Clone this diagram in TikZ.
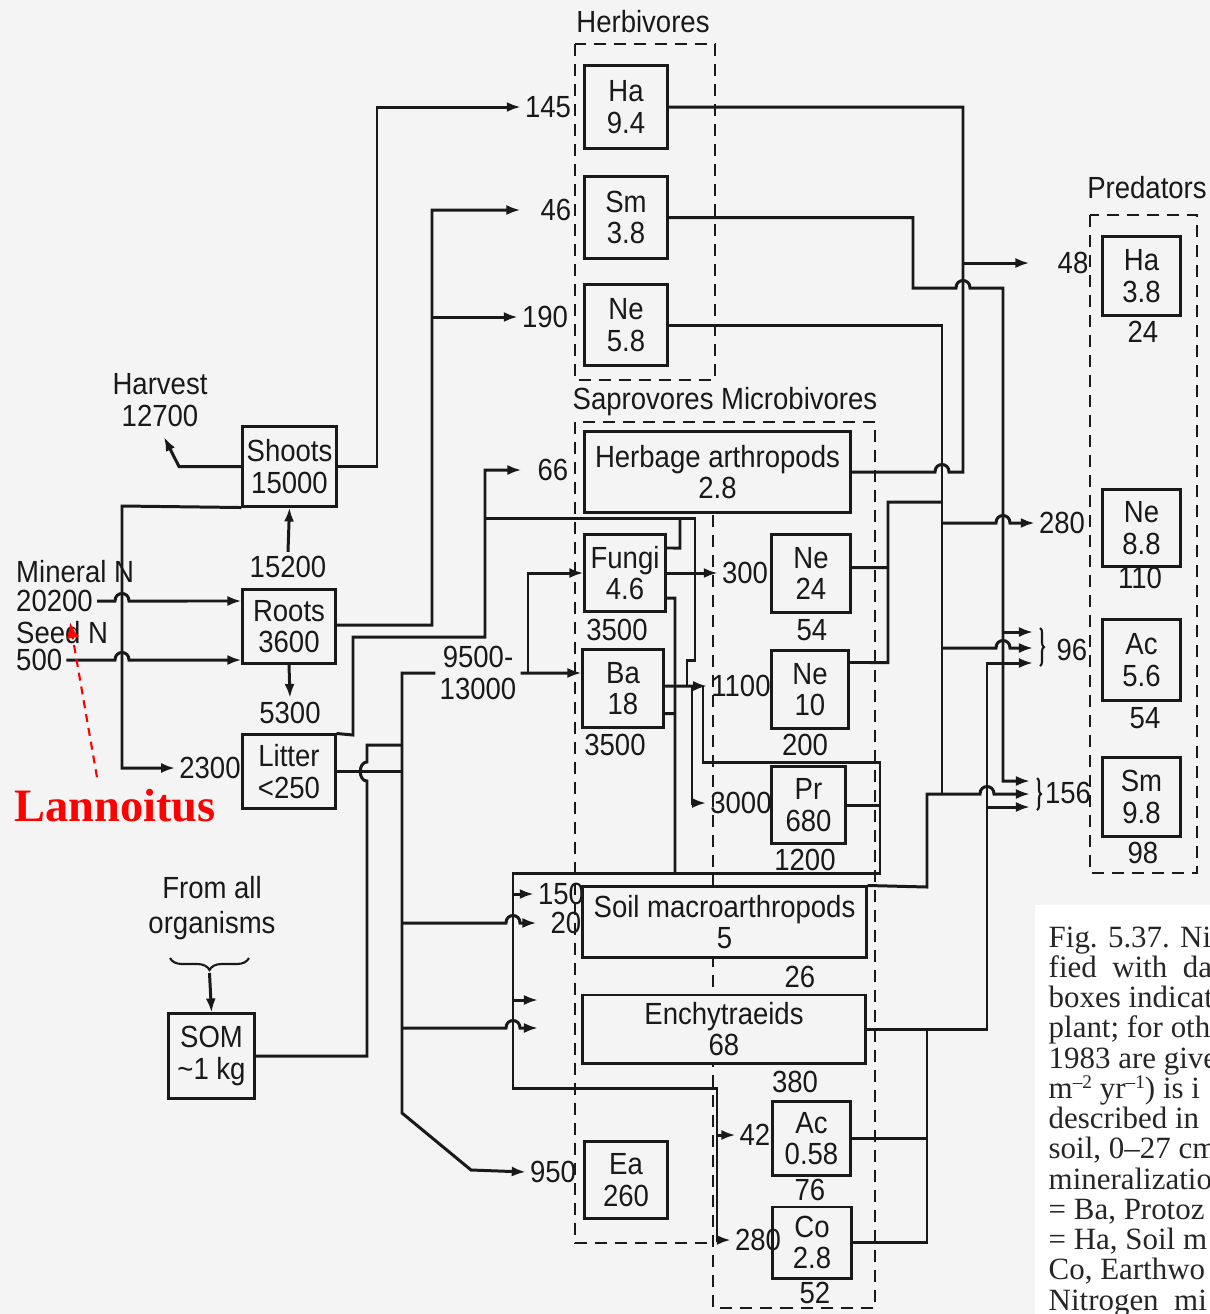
\documentclass[tikz,border=0pt]{standalone}
\usepackage{fontspec}
\usepackage{tikz}
\usetikzlibrary{arrows.meta,decorations.pathreplacing}
\newfontfamily\dinfont{Liberation Sans}[FakeStretch=0.9]
\newfontfamily\capfont{Liberation Serif}
\definecolor{ink}{gray}{0.1}
\definecolor{paper}{gray}{0.955}
\newcommand{\capsup}[1]{\raisebox{0.7ex}{\fontsize{5.5}{6}\selectfont #1}}

\begin{document}
\begin{tikzpicture}[
  x=0.01cm, y=-0.01cm,
  every node/.style={font=\dinfont\fontsize{8.7}{8.9}\selectfont, text=ink},
  box/.style={draw=ink, fill=paper, line width=0.85pt, inner sep=0pt, align=center},
  num/.style={inner sep=1pt},
  link/.style={draw=ink, line width=0.85pt},
  arrow/.style={link, -{Latex[length=1.4mm,width=1mm]}},
  grp/.style={draw=ink, line width=0.8pt, dash pattern=on 1.2mm off 0.8mm},
  curly/.style={draw=ink, line width=0.6pt, decorate, decoration={brace, amplitude=0.4mm}},
  capline/.style={font=\capfont\fontsize{8.8}{9}\selectfont, anchor=base west, inner sep=0pt, text=black!85}
]
\useasboundingbox (0,0) rectangle (1210,1314);
\fill[paper] (0,0) rectangle (1210,1314);
\fill[white] (1035,905) rectangle (1210,1314);

% group frames
\draw[grp] (575,44) rectangle (715,380);
\draw[grp] (713,515) -- (713,1308) -- (875,1308) -- (875,422) -- (575,422) -- (575,1243) -- (713,1243);
\draw[grp] (1090,215) rectangle (1197,873);
\node (herbivores) at (643,22) {Herbivores};
\node (saprovores) at (725,402) {Saprovores Microbivores};
\node (predators) at (1147,188) {Predators};

% plant and soil
\node[box, minimum width=0.93cm, minimum height=0.79cm] (shoots) at (289.5,466.5) {Shoots\\15000};
\node[box, minimum width=0.92cm, minimum height=0.73cm] (roots) at (289,626.5) {Roots\\3600};
\node[box, minimum width=0.92cm, minimum height=0.73cm] (litter) at (289,771.5) {Litter\\<250};
\node[box, minimum width=0.85cm, minimum height=0.84cm] (som) at (211.5,1056) {SOM\\\textasciitilde 1 kg};

% herbivores
\node[box, minimum width=0.82cm, minimum height=0.82cm] (hbHa) at (626,107) {Ha\\9.4};
\node[box, minimum width=0.82cm, minimum height=0.81cm] (hbSm) at (626,217.5) {Sm\\3.8};
\node[box, minimum width=0.82cm, minimum height=0.80cm] (hbNe) at (626,325) {Ne\\5.8};

% saprovores and microbivores
\node[box, minimum width=2.65cm, minimum height=0.80cm] (saHerb) at (717.5,472) {Herbage arthropods\\2.8};
\node[box, minimum width=0.80cm, minimum height=0.77cm] (saFungi) at (625,573) {Fungi\\4.6};
\node[box, minimum width=0.80cm, minimum height=0.77cm] (saBa) at (623,688.5) {Ba\\18};
\node[box, minimum width=0.78cm, minimum height=0.77cm] (mbNeF) at (811,573.5) {Ne\\24};
\node[box, minimum width=0.76cm, minimum height=0.77cm] (mbNeB) at (810,689.5) {Ne\\10};
\node[box, minimum width=0.73cm, minimum height=0.76cm] (mbPr) at (808.5,805) {Pr\\680};
\node[box, minimum width=2.83cm, minimum height=0.70cm] (saMacro) at (724.5,922) {Soil macroarthropods\\5};
\node[box, minimum width=2.82cm, minimum height=0.68cm] (saEnch) at (724,1029) {Enchytraeids\\68};
\node[box, minimum width=0.82cm, minimum height=0.76cm] (saEa) at (626,1180) {Ea\\260};
\node[box, minimum width=0.77cm, minimum height=0.73cm] (mbAc) at (811.5,1138.5) {Ac\\0.58};
\node[box, minimum width=0.78cm, minimum height=0.71cm] (mbCo) at (812,1242.5) {Co\\2.8};

% predators
\node[box, minimum width=0.77cm, minimum height=0.78cm] (prHa) at (1141.5,276) {Ha\\3.8};
\node[box, minimum width=0.77cm, minimum height=0.76cm] (prNe) at (1141.5,528) {Ne\\8.8};
\node[box, minimum width=0.77cm, minimum height=0.80cm] (prAc) at (1141.5,660) {Ac\\5.6};
\node[box, minimum width=0.77cm, minimum height=0.78cm] (prSm) at (1141.5,797) {Sm\\9.8};

% flow numbers
\node[align=center] (harvest) at (160,400) {Harvest\\12700};
\node[num, anchor=west] (lMineral) at (12,572) {Mineral N};
\node[num, anchor=west] (l20200) at (12,601) {20200};
\node[num, anchor=west] (lSeed) at (12,633) {Seed N};
\node[num, anchor=west] (l500) at (12,660) {500};
\node[num] (f15200) at (288,567) {15200};
\node[num] (f5300) at (290,713) {5300};
\node[num] (f2300) at (210,768) {2300};
\node[num] (f145) at (548,107) {145};
\node[num] (f46) at (556,210) {46};
\node[num] (f190) at (545,317) {190};
\node[num] (f66) at (553,470) {66};
\node[num, align=center] (f9500) at (478,673) {9500-\\13000};
\node[num] (f3500a) at (617,630) {3500};
\node[num] (f3500b) at (615,745) {3500};
\node[num] (f300) at (745,573) {300};
\node[num] (f1100) at (741,686) {1100};
\node[num] (f3000) at (741,803) {3000};
\node[num] (f54a) at (812,630) {54};
\node[num] (f200) at (805,745) {200};
\node[num] (f1200) at (805,860) {1200};
\node[num] (f150) at (561,894) {150};
\node[num] (f20) at (566,923) {20};
\node[num] (f26) at (800,977) {26};
\node[num] (f380) at (795,1082) {380};
\node[num] (f42) at (755,1135) {42};
\node[num] (f280b) at (758,1240) {280};
\node[num] (f76) at (810,1190) {76};
\node[num] (f52) at (815,1293) {52};
\node[num] (f950) at (553,1172) {950};
\node[num] (f48) at (1073,263) {48};
\node[num] (f280a) at (1062,523) {280};
\node[num] (f96) at (1072,650) {96};
\node[num] (f156) at (1068,793) {156};
\node[num] (f24) at (1143,332) {24};
\node[num] (f110) at (1140,578) {110};
\node[num] (f54b) at (1145,718) {54};
\node[num] (f98) at (1143,853) {98};
\node[align=center, font=\dinfont\fontsize{8.7}{10}\selectfont] (fromall) at (212,908) {From all\\organisms};

% free ends
\coordinate (harv) at (164,437);
\coordinate (rootsBus) at (432,317);
\coordinate (litBus) at (528,673);
\coordinate (herbBus) at (963,263);
\coordinate (enIn1) at (538,1000);
\coordinate (enIn2) at (538,1028);
\coordinate (a96a) at (1033,632);
\coordinate (a96b) at (1033,648);
\coordinate (a96c) at (1033,663);
\coordinate (a156a) at (1030,781);
\coordinate (a156b) at (1030,794);
\coordinate (a156c) at (1030,807);
\coordinate (somTip) at (209.5,973);

% plant flows
\draw[arrow] (shoots.west) -- (179,466.5) -- (harv);
\draw[arrow] (shoots.east) -- (377,466.5) |- (f145.west);
\draw[arrow] (l20200.east) -- (115,601) .. controls (115,591) and (129,591) .. (129,601) -- ([yshift=2.55mm]roots.west);
\draw[arrow] (l500.east) -- (115,660) .. controls (115,650) and (129,650) .. (129,660) -- ([yshift=-3.35mm]roots.west);
\draw[arrow] (shoots.south west) -- (122,506) -- (122,768) -- (f2300.west);
\draw[arrow] (f15200.north) -- (shoots.south);
\draw[arrow] (roots.south) -- (f5300.north);
\draw[arrow, shorten >=1.6mm] ([yshift=0.15mm]roots.east) -- (432,625) |- (f46.west);
\draw[arrow] (rootsBus) -- (f190.west);
\draw[arrow, shorten >=1.2mm] (litter.north east) -- (353,735) -- (353,637) -- (485,637) |- (f66.west);
\draw[link] (485,518) -- (695,518) -- (695,660) -- (687,660) -- (687,686);

% litter and SOM to decomposers
\draw[link] (litter.east) -- (402,771.5);
\draw[link] (som.east) -- (367,1056) -- (367,781) .. controls (358,781) and (358,762) .. (367,762) -- (367,745) -- (402,745);
\draw[arrow] (f9500.west) -- (402,673) -- (402,1113) -- (471,1170) -- (f950.west);
\draw[arrow] (f9500.east) -- ([yshift=1.55mm]saBa.west);
\draw[arrow] (litBus) |- (saFungi.west);
\draw[arrow, shorten >=1mm] (402,923) -- (506,923) .. controls (506,913) and (520,913) .. (520,923) -- (f20.west);
\draw[arrow] (402,1028) -- (506,1028) .. controls (506,1018) and (520,1018) .. (520,1028) -- (enIn2);

% microbes to grazers
\draw[arrow] (saFungi.east) -- (f300.west);
\draw[link] ([yshift=2.5mm]saFungi.east) -- (680,548) -- (680,518);
\draw[link] ([yshift=-2.5mm]saFungi.east) -- (675,598) -- (675,873);
\draw[arrow] ([yshift=0.25mm]saBa.east) -- (f1100.west);
\draw[link] ([yshift=-2.5mm]saBa.east) -- (675,713.5);
\draw[arrow] (692,686) |- (f3000.west);
\draw[arrow] (703,686) -- (703,762) -- (880,762) -- (880,873) -- (513,873) -- (513,1088) -- (717,1088) -- (717,1240) -- (f280b.west);
\draw[link] (mbPr.east) -- (880,805);
\draw[arrow] (513,894) -- (f150.west);
\draw[arrow] (513,1000) -- (enIn1);
\draw[arrow] (717,1135) -- (f42.west);

% to predators
\draw[link] (hbHa.east) -- (963,107) -- (963,472) -- (949,472) .. controls (949,462) and (935,462) .. (935,472) -- (saHerb.east);
\draw[arrow, shorten >=2.4mm] (herbBus) -- (f48.west);
\draw[arrow] (hbSm.east) -- (913,217.5) -- (913,288) -- (956,288) .. controls (956,278) and (970,278) .. (970,288) -- (1003,288) -- (1003,781) -- (a156a);
\draw[arrow] (1003,632) -- (a96a);
\draw[link] (hbNe.east) -- (942,325) -- (942,794);
\draw[arrow] (942,523) -- (996,523) .. controls (996,513) and (1010,513) .. (1010,523) -- (f280a.west);
\draw[arrow] (942,648) -- (996,648) .. controls (996,638) and (1010,638) .. (1010,648) -- (a96b);
\draw[link] ([yshift=0.6mm]mbNeF.east) -- (888,567.5);
\draw[link] ([yshift=2.7mm]mbNeB.east) -- (888,662.5) -- (888,502) -- (942,502);
\draw[arrow] (saMacro.north east) -- (927,887) -- (927,794) -- (980,794) .. controls (980,784) and (994,784) .. (994,794) -- (a156b);
\draw[arrow] (saEnch.east) -- (987,1029) -- (987,663) -- (a96c);
\draw[arrow] (987,807) -- (a156c);
\draw[link] (mbAc.east) -- (927,1138.5);
\draw[link] (mbCo.east) -- (927,1242.5) -- (927,1029);
\draw[curly] (1040,628) -- (1040,666);
\draw[curly] (1037,778) -- (1037,810);

% dead matter
\draw[curly, decoration={brace, amplitude=1.2mm}] (249,958) -- (170,958);
\draw[arrow] (somTip) -- (som.north);

% annotation
\node[font=\capfont\fontsize{13.2}{14}\selectfont\bfseries, text=red] (lannoitus) at (115,806) {Lannoitus};
\coordinate (fertTip) at (70,622);
\draw[red, line width=0.6pt, dash pattern=on 0.8mm off 0.6mm, -{Latex[length=1.6mm,width=1.2mm]}] ([xshift=-1.8mm]lannoitus.north) -- (fertTip);

% caption
\node[capline] (cap1) at (1048,947) {Fig. 5.37. Nit};
\node[capline] (cap2) at (1048,977.25) {fied \ with \ da};
\node[capline] (cap3) at (1048,1007.5) {boxes indicat};
\node[capline] (cap4) at (1048,1037.75) {plant; for oth};
\node[capline] (cap5) at (1048,1068) {1983 are give};
\node[capline] (cap6) at (1048,1098.25) {m\capsup{–2} yr\capsup{–1}) is i};
\node[capline] (cap7) at (1048,1128.5) {described in};
\node[capline] (cap8) at (1048,1158.75) {soil, 0–27 cm};
\node[capline] (cap9) at (1048,1189) {mineralizatio};
\node[capline] (cap10) at (1048,1219.25) {= Ba, Protoz};
\node[capline] (cap11) at (1048,1249.5) {= Ha, Soil m};
\node[capline] (cap12) at (1048,1279.75) {Co, Earthwo};
\node[capline] (cap13) at (1048,1310) {Nitrogen \ mi};
\end{tikzpicture}
\end{document}
